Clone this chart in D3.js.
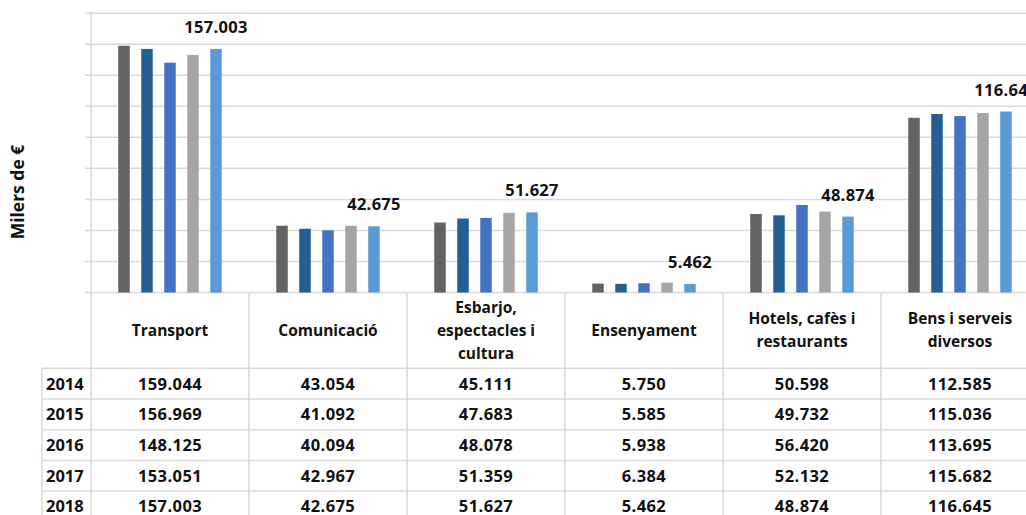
<!DOCTYPE html>
<html>
<head>
<meta charset="utf-8">
<script src="https://cdn.jsdelivr.net/npm/d3@7"></script>
<style>
  html, body { margin: 0; padding: 0; background: #fff; overflow: hidden; }
  svg { display: block; font-family: "Open Sans", Lato, sans-serif; font-weight: bold; }
</style>
</head>
<body>
<svg id="chart" width="1026" height="515"></svg>
<script>
// categories (table header, can span several lines)
var categories = ["Transport", "Comunicació", "Esbarjo, espectacles i cultura", "Ensenyament", "Hotels, cafès i restaurants", "Bens i serveis diversos"];
var categoryLines = [["Transport"], ["Comunicació"], ["Esbarjo,", "espectacles i", "cultura"], ["Ensenyament"], ["Hotels, cafès i", "restaurants"], ["Bens i serveis", "diversos"]];
var years = ["2014", "2015", "2016", "2017", "2018"];

// milers de euros, one array per year
var v2014 = [159044, 43054, 45111, 5750, 50598, 112585];
var v2015 = [156969, 41092, 47683, 5585, 49732, 115036];
var v2016 = [148125, 40094, 48078, 5938, 56420, 113695];
var v2017 = [153051, 42967, 51359, 6384, 52132, 115682];
var v2018 = [157003, 42675, 51627, 5462, 48874, 116645];
var yTicks = [0, 20000, 40000, 60000, 80000, 100000, 120000, 140000, 160000, 180000];

var series = [v2014, v2015, v2016, v2017, v2018];
var colors = ["#636363", "#255e91", "#4472c4", "#a5a5a5", "#5b9bd5"];

var locale = d3.formatLocale({ decimal: ",", thousands: ".", grouping: [3], currency: ["", "€"] });
var fmt = locale.format(",.0f");

var svg = d3.select("#chart");
var gridColor = "#d9d9d9";

var plotLeft = 91, catW = 158, base = 292.5, plotTop = 13.2;
var x0 = d3.scaleBand().domain(categories).range([plotLeft, plotLeft + catW * categories.length]);
var x1 = d3.scaleBand().domain(years).range([(catW - 115) / 2, (catW + 115) / 2])
  .paddingInner(0.5).paddingOuter(0.25);
var y = d3.scaleLinear().domain([0, 180000]).range([base, plotTop]);

// gridlines + ticks
svg.append("g").selectAll("line").data(yTicks).enter().append("line")
  .attr("x1", 85).attr("x2", 1026)
  .attr("y1", function (d) { return y(d); })
  .attr("y2", function (d) { return y(d); })
  .attr("stroke", gridColor).attr("stroke-width", 1.5);

// y axis line
svg.append("line")
  .attr("x1", plotLeft).attr("x2", plotLeft).attr("y1", plotTop - 2).attr("y2", 515)
  .attr("stroke", gridColor).attr("stroke-width", 1.5);

// bars
series.forEach(function (vals, s) {
  svg.append("g").selectAll("rect").data(vals).enter().append("rect")
    .attr("x", function (d, i) { return x0(categories[i]) + x1(years[s]); })
    .attr("y", function (d) { return y(d); })
    .attr("width", x1.bandwidth())
    .attr("height", function (d) { return base - y(d); })
    .attr("fill", colors[s]);
});

// data labels for last year
svg.append("g").selectAll("text").data(v2018).enter().append("text")
  .attr("x", function (d, i) { return x0(categories[i]) + x1("2018") + x1.bandwidth() / 2; })
  .attr("y", function (d) { return y(d) - 16; })
  .attr("text-anchor", "middle")
  .attr("font-size", 16.5)
  .attr("letter-spacing", 0.3)
  .attr("fill", "#111")
  .text(function (d) { return fmt(d); });

// y axis title
svg.append("text")
  .attr("transform", "translate(24,192) rotate(-90)")
  .attr("text-anchor", "middle")
  .attr("font-size", 17.5)
  .attr("fill", "#111")
  .text("Milers de €");

// data table
var headerBottom = 368.3, rowH = 30.7, tableLeft = 42;

svg.append("line")
  .attr("x1", tableLeft).attr("x2", 1026).attr("y1", headerBottom).attr("y2", headerBottom)
  .attr("stroke", gridColor).attr("stroke-width", 1.5);
years.forEach(function (yr, r) {
  var yy = headerBottom + rowH * (r + 1);
  svg.append("line")
    .attr("x1", tableLeft).attr("x2", 1026).attr("y1", yy).attr("y2", yy)
    .attr("stroke", gridColor).attr("stroke-width", 1.5);
});
svg.append("line")
  .attr("x1", tableLeft).attr("x2", tableLeft).attr("y1", headerBottom).attr("y2", 515)
  .attr("stroke", gridColor).attr("stroke-width", 1.5);

categories.forEach(function (c, i) {
  var xr = x0(c) + catW;
  svg.append("line")
    .attr("x1", xr).attr("x2", xr).attr("y1", base).attr("y2", 515)
    .attr("stroke", gridColor).attr("stroke-width", 1.5);

  var lines = categoryLines[i];
  var cy = (base + headerBottom) / 2 + 5.5;
  var t = svg.append("text")
    .attr("text-anchor", "middle")
    .attr("font-size", 15.5)
    .attr("fill", "#111");
  lines.forEach(function (ln, k) {
    t.append("tspan")
      .attr("x", x0(c) + catW / 2)
      .attr("y", cy + (k - (lines.length - 1) / 2) * 23)
      .text(ln);
  });
});

years.forEach(function (yr, r) {
  var cy = headerBottom + rowH * r + rowH / 2 + 6;
  svg.append("text")
    .attr("x", 46).attr("y", cy)
    .attr("font-size", 16.5).attr("fill", "#111")
    .text(yr);
  series[r].forEach(function (v, i) {
    svg.append("text")
      .attr("x", x0(categories[i]) + catW / 2).attr("y", cy)
      .attr("text-anchor", "middle")
      .attr("font-size", 16.5).attr("letter-spacing", 0.4).attr("fill", "#111")
      .text(fmt(v));
  });
});
</script>
</body>
</html>
